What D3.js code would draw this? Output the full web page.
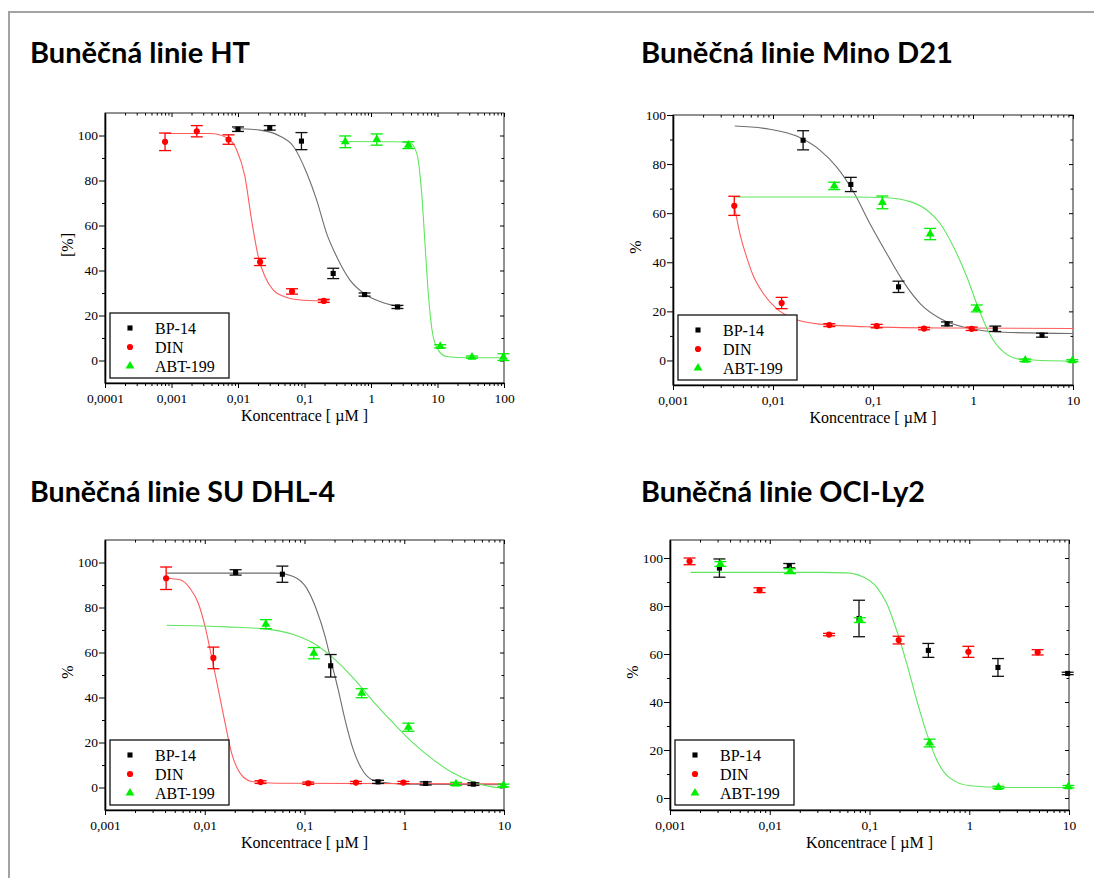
<!DOCTYPE html>
<html>
<head>
<meta charset="utf-8">
<script src="https://cdn.jsdelivr.net/npm/d3@7/dist/d3.min.js"></script>
<style>
  body { margin: 0; background: #fff; }
  svg text { font-family: "Liberation Serif", "Times New Roman", serif; }
  .tick text { font-size: 13.5px; fill: #000; }
  .title { font-family: "Lato", "Open Sans", sans-serif !important; font-weight: 700; font-size: 28px; }
</style>
</head>
<body>
<div id="chart"></div>
<script>
// ---- data: [concentration µM, mean %, error] ----
var htBP  = [[0.01,102.8,1.0],[0.03,103.4,1.0],[0.09,97.5,3.8],[0.27,38.7,2.3],[0.8,29.3,0.7],[2.5,23.8,0.7]];
var htDIN = [[0.0008,97.2,3.9],[0.0024,101.9,2.5],[0.0072,98.2,2.1],[0.0215,43.8,1.6],[0.065,30.7,1.2],[0.195,26.5,0.7]];
var htABT = [[0.41,97.2,2.6],[1.22,98.2,2.5],[3.65,95.7,1.5],[11,6.3,0.7],[33,1.5,0.5],[98,1.5,1.5]];
// fitted curves, points
var htBPFit  = [[0.0085,103.1],[0.0214,102.4],[0.043,99.7],[0.068,95.2],[0.108,83.3],[0.152,71.4],[0.215,56.5],[0.305,46.1],[0.483,35.7],[0.86,29],[1.53,25.7],[2.89,23.8]];
var htDINFit = [[0.00083,100.9],[0.0038,100.9],[0.0068,99],[0.0095,93.8],[0.0127,81.8],[0.016,62.5],[0.0202,46.1],[0.0255,37.2],[0.034,31.25],[0.054,28],[0.096,26.8],[0.236,26.5]];
var htABTFit = [[0.342,97.3],[2.17,97.2],[3.86,96.7],[4.86,92.3],[5.78,74.4],[6.48,52.1],[7.27,29.8],[8.45,11.9],[10.3,4.5],[13.7,1.8],[27.5,1.2],[100,1.2]];

var minoBP  = [[0.02,89.7,3.9],[0.06,71.7,2.9],[0.18,30,2.3],[0.55,14.9,0.8],[1.67,12.9,1.1],[4.9,10.3,0.8]];
var minoDIN = [[0.0041,63,3.9],[0.0122,23.4,2.3],[0.0366,14.4,0.6],[0.109,14,0.7],[0.324,13,0.5],[0.97,12.9,0.7]];
var minoABT = [[0.041,71.1,1.5],[0.124,64.4,2.6],[0.373,51.5,2.3],[1.09,21.2,1.4],[3.33,0.1,0.5],[9.85,-0.1,0.4]];
var minoBPFit  = [[0.00415,95.5],[0.0093,94.2],[0.0172,91.4],[0.0294,85.7],[0.0432,78.9],[0.0636,68.8],[0.093,55.8],[0.137,43.6],[0.201,32.1],[0.296,23.2],[0.469,17.1],[0.937,13],[2.02,11.5],[10,11]];
var minoDINFit = [[0.00415,62],[0.00466,51.8],[0.00543,42.3],[0.0063,34.8],[0.008,27.3],[0.0108,21.2],[0.0159,17.1],[0.0294,14.8],[0.093,13.7],[0.638,13.2],[10,13]];
var minoABTFit = [[0.0041,66.6],[0.0636,66.6],[0.137,66.3],[0.235,64.7],[0.345,61.3],[0.469,55.8],[0.638,46.3],[0.867,34.1],[1.135,21.2],[1.49,10.3],[2.02,3.5],[2.97,0.5],[10,-0.3]];

var suBP  = [[0.0204,95.6,1.2],[0.06,94.8,3.6],[0.183,54.1,5],[0.546,2.5,0.7],[1.64,1.8,0.7],[4.93,1.5,0.6]];
var suDIN = [[0.0041,93,5],[0.0122,57.6,4.8],[0.0363,2.4,0.6],[0.109,1.9,0.5],[0.328,2.2,0.5],[0.98,2.2,0.5]];
var suABT = [[0.041,72.6,2],[0.124,59.7,2.5],[0.374,41.9,2],[1.1,26.8,1.8],[3.3,1.6,0.7],[9.85,0.9,0.6]];
var suBPFit  = [[0.00415,95.3],[0.0526,95.3],[0.0773,93.8],[0.105,88.6],[0.132,79],[0.161,67.1],[0.187,55.3],[0.218,43.4],[0.255,30.1],[0.309,16.7],[0.389,7.1],[0.529,2.7],[1.14,1.5],[10,1.2]];
var suDINFit = [[0.00415,93],[0.00565,92.3],[0.0071,88.6],[0.00862,81.9],[0.01007,71.6],[0.0117,58.2],[0.0137,43.4],[0.016,28.6],[0.0186,15.3],[0.0226,6.4],[0.0295,2.7],[0.0526,1.9],[10,1.6]];
var suABTFit = [[0.00415,72.1],[0.0166,71.4],[0.0418,70.4],[0.0773,68],[0.123,64.1],[0.195,57.5],[0.309,48.6],[0.49,38.2],[0.778,28.6],[1.23,19.7],[1.96,12.3],[3.1,6.4],[4.93,2.4],[7.82,0.15],[10,-0.3]];

var ociBP  = [[0.00313,95.8,3.8],[0.0157,96.8,0.9],[0.0785,74.8,7.6],[0.389,61.5,2.9],[1.94,54.4,3.7],[9.7,51.9,0.5]];
var ociDIN = [[0.00157,98.6,1.4],[0.0079,86.6,1],[0.0393,68.1,0.5],[0.196,65.8,1.6],[0.98,60.9,2.3],[4.85,60.7,1.1]];
var ociABT = [[0.0032,97.5,1],[0.016,94.5,1],[0.08,74.1,1],[0.4,22.9,1.6],[1.96,4.4,0.5],[9.85,4.7,0.5]];
var ociABTFit = [[0.00161,94],[0.0319,94],[0.059,93.8],[0.0867,92.1],[0.118,87.9],[0.149,81],[0.187,69.9],[0.236,56.1],[0.297,40.9],[0.374,27],[0.471,15.9],[0.641,8.3],[1.02,5.1],[2.2,4.4],[10,4.4]];

var seriesNames = ["BP-14", "DIN", "ABT-199"];
var yTicks = [0, 20, 40, 60, 80, 100];
var xLabels = {1e-4: "0,0001", 1e-3: "0,001", 1e-2: "0,01", 0.1: "0,1", 1: "1", 10: "10", 100: "100"};

// ---- styling ----
var markColor = ["#000000", "#ff0000", "#00ee00"];
var curveColor = ["#6e6e6e", "#ff5c5c", "#5ee65e"];
var markShape = [d3.symbolSquare, d3.symbolCircle, d3.symbolTriangle];
var markSize = [26, 30, 34];

var panels = [
  {title: "Buněčná linie HT", tx: 30, ty: 63, tw: 220,
   left: 105, right: 504, top: 113, bottom: 383, xd: [1e-4, 100], yd: [-10, 110], yLabel: "[%]",
   pts: [htBP, htDIN, htABT], fits: [htBPFit, htDINFit, htABTFit]},
  {title: "Buněčná linie Mino D21", tx: 641, ty: 63, tw: 312,
   left: 673, right: 1073, top: 115, bottom: 385, xd: [1e-3, 10], yd: [-10, 100], yLabel: "%",
   pts: [minoBP, minoDIN, minoABT], fits: [minoBPFit, minoDINFit, minoABTFit]},
  {title: "Buněčná linie SU DHL-4", tx: 30, ty: 502, tw: 305,
   left: 105, right: 504, top: 540, bottom: 810, xd: [1e-3, 10], yd: [-10, 110], yLabel: "%",
   pts: [suBP, suDIN, suABT], fits: [suBPFit, suDINFit, suABTFit]},
  {title: "Buněčná linie OCI-Ly2", tx: 641, ty: 502, tw: 284,
   left: 670, right: 1069, top: 540, bottom: 810, xd: [1e-3, 10], yd: [-5, 107.5], yLabel: "%",
   pts: [ociBP, ociDIN, ociABT], fits: [null, null, ociABTFit]}
];

var svg = d3.select("#chart").append("svg")
  .attr("width", 1094)
  .attr("height", 878);

// outer grey frame
svg.append("path")
  .attr("d", "M9,878 V12 H1094")
  .attr("fill", "none")
  .attr("stroke", "#a3a3a3")
  .attr("stroke-width", 2);

panels.forEach(function(p) {
  var x = d3.scaleLog().domain(p.xd).range([p.left, p.right]);
  var y = d3.scaleLinear().domain(p.yd).range([p.bottom, p.top]);

  svg.append("text")
    .attr("class", "title")
    .attr("x", p.tx)
    .attr("y", p.ty)
    .attr("textLength", p.tw)
    .attr("lengthAdjust", "spacingAndGlyphs")
    .text(p.title);

  var g = svg.append("g");

  g.append("rect")
    .attr("x", p.left).attr("y", p.top)
    .attr("width", p.right - p.left).attr("height", p.bottom - p.top)
    .attr("fill", "#fff")
    .attr("stroke", "#222")
    .attr("stroke-width", 1);

  // log ticks
  var decades = [];
  for (var e = Math.round(Math.log10(p.xd[0])); e <= Math.round(Math.log10(p.xd[1])); e++) decades.push(Math.pow(10, e));
  var minorX = [];
  decades.slice(0, -1).forEach(function(d) {
    for (var k = 2; k <= 9; k++) minorX.push(d * k);
  });
  var minorY = d3.range(p.yd[0] < -5 ? -10 : 10, p.yd[1] + 0.1, 20).filter(function(v) { return v > p.yd[0] && v < p.yd[1]; });

  // bottom axis
  g.append("g")
    .attr("transform", "translate(0," + p.bottom + ")")
    .call(d3.axisBottom(x).tickValues(decades).tickSizeInner(5).tickSizeOuter(0).tickPadding(5)
      .tickFormat(function(d) { return xLabels[d]; }))
    .call(function(a) { a.select(".domain").attr("stroke-width", 1.6); });
  g.append("g")
    .attr("transform", "translate(0," + p.bottom + ")")
    .call(d3.axisBottom(x).tickValues(minorX).tickSize(3).tickFormat(""))
    .call(function(a) { a.select(".domain").remove(); });

  // top mirrored ticks (inside)
  g.append("g")
    .attr("transform", "translate(0," + p.top + ")")
    .call(d3.axisTop(x).tickValues(decades).tickSize(-4).tickFormat(""))
    .call(function(a) { a.select(".domain").remove(); });
  g.append("g")
    .attr("transform", "translate(0," + p.top + ")")
    .call(d3.axisTop(x).tickValues(minorX).tickSize(-2.5).tickFormat(""))
    .call(function(a) { a.select(".domain").remove(); });

  // left axis
  g.append("g")
    .attr("transform", "translate(" + p.left + ",0)")
    .call(d3.axisLeft(y).tickValues(yTicks).tickSizeInner(6).tickSizeOuter(0).tickPadding(1).tickFormat(d3.format("d")))
    .call(function(a) { a.select(".domain").attr("stroke-width", 1.6); });
  g.append("g")
    .attr("transform", "translate(" + p.left + ",0)")
    .call(d3.axisLeft(y).tickValues(minorY).tickSize(3).tickFormat(""))
    .call(function(a) { a.select(".domain").remove(); });

  // right mirrored ticks (inside)
  g.append("g")
    .attr("transform", "translate(" + p.right + ",0)")
    .call(d3.axisRight(y).tickValues(yTicks).tickSize(-4).tickFormat(""))
    .call(function(a) { a.select(".domain").remove(); });
  g.append("g")
    .attr("transform", "translate(" + p.right + ",0)")
    .call(d3.axisRight(y).tickValues(minorY).tickSize(-2.5).tickFormat(""))
    .call(function(a) { a.select(".domain").remove(); });

  // axis titles
  g.append("text")
    .attr("x", (p.left + p.right) / 2)
    .attr("y", p.bottom + 38)
    .attr("text-anchor", "middle")
    .attr("font-size", 16)
    .text("Koncentrace [ µM ]");

  g.append("text")
    .attr("transform", "translate(" + (p.left - 32) + "," + ((p.top + p.bottom) / 2 - 3) + ") rotate(-90)")
    .attr("text-anchor", "middle")
    .attr("font-size", 16)
    .text(p.yLabel);

  // fitted curves
  var line = d3.line()
    .x(function(d) { return x(d[0]); })
    .y(function(d) { return y(d[1]); })
    .curve(d3.curveMonotoneX);

  p.fits.forEach(function(f, i) {
    if (!f) return;
    g.append("path")
      .datum(f)
      .attr("d", line)
      .attr("fill", "none")
      .attr("stroke", curveColor[i])
      .attr("stroke-width", 1.1);
  });

  // error bars + markers
  p.pts.forEach(function(s, i) {
    var eb = g.append("g")
      .attr("stroke", markColor[i] === "#000000" ? "#111" : markColor[i])
      .attr("stroke-width", 1.3);
    s.forEach(function(d) {
      var cx = x(d[0]), y0 = y(d[1] - d[2]), y1 = y(d[1] + d[2]);
      eb.append("line").attr("x1", cx).attr("x2", cx).attr("y1", y0).attr("y2", y1);
      eb.append("line").attr("x1", cx - 6).attr("x2", cx + 6).attr("y1", y0).attr("y2", y0);
      eb.append("line").attr("x1", cx - 6).attr("x2", cx + 6).attr("y1", y1).attr("y2", y1);
    });
    g.selectAll(null)
      .data(s)
      .enter()
      .append("path")
      .attr("transform", function(d) { return "translate(" + x(d[0]) + "," + y(d[1]) + ")"; })
      .attr("d", d3.symbol().type(markShape[i]).size(markSize[i]))
      .attr("fill", markColor[i]);
  });

  // legend
  var lg = g.append("g").attr("transform", "translate(" + (p.left + 5) + "," + (p.bottom - 70) + ")");
  lg.append("rect")
    .attr("width", 119).attr("height", 65)
    .attr("fill", "#fff")
    .attr("stroke", "#111")
    .attr("stroke-width", 1.3);
  seriesNames.forEach(function(name, i) {
    var ry = 15 + i * 19;
    lg.append("path")
      .attr("transform", "translate(20," + ry + ")")
      .attr("d", d3.symbol().type(markShape[i]).size(markSize[i]))
      .attr("fill", markColor[i]);
    lg.append("text")
      .attr("x", 45)
      .attr("y", ry + 5.5)
      .attr("font-size", 16)
      .text(name);
  });
});
</script>
</body>
</html>
